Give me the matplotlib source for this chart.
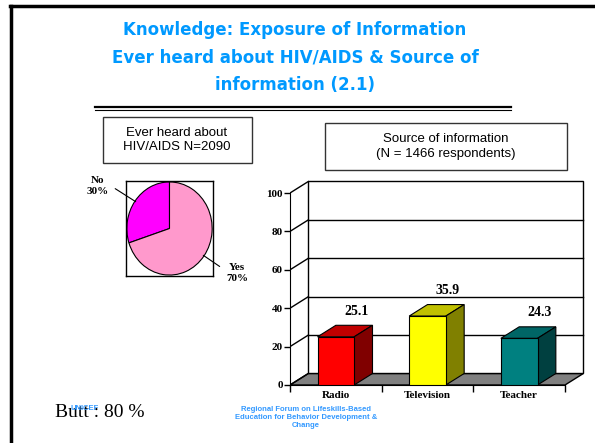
import numpy as np
import matplotlib
matplotlib.use('Agg')
import matplotlib.pyplot as plt
from matplotlib.patches import Polygon, Rectangle
from matplotlib.lines import Line2D

# data
pie_labels = ['No', 'Yes']
pie_values = [30, 70]
pie_colors = ['#FF00FF', '#FF99CC']

sources = ['Radio', 'Television', 'Teacher']
source_pct = [25.1, 35.9, 24.3]
front_colors = ['#FF0000', '#FFFF00', '#008080']
top_colors = ['#C00000', '#C0C000', '#006666']
side_colors = ['#800000', '#808000', '#004040']
yticks = [0, 20, 40, 60, 80, 100]

title = ('Knowledge: Exposure of Information\n'
         'Ever heard about HIV/AIDS & Source of\n'
         'information (2.1)')

W, H = 595, 443
fig = plt.figure(figsize=(W / 100, H / 100), dpi=100)


def px_box(x0, y0, x1, y1):
    return [x0 / W, 1 - y1 / H, (x1 - x0) / W, (y1 - y0) / H]


def fx(x):
    return x / W


def fy(y):
    return 1 - y / H


serif = 'Liberation Serif'
sans = 'Liberation Sans'
blue = '#0099FF'

# slide border
fig.add_artist(Line2D([fx(10), 1], [fy(6), fy(6)], color='black', lw=2.5))
fig.add_artist(Line2D([fx(11), fx(11)], [fy(6), 0], color='black', lw=2.5))

# title + double rule
fig.text(fx(295), fy(57.5), title, ha='center', va='center', color=blue,
         fontsize=12, fontweight='bold', family='DejaVu Sans', linespacing=1.7)
fig.add_artist(Line2D([fx(95), fx(511)], [fy(106.5), fy(106.5)], color='black', lw=1.6))
fig.add_artist(Line2D([fx(95), fx(511)], [fy(109.5), fy(109.5)], color='black', lw=0.8))

# caption boxes
fig.add_artist(Rectangle((fx(103), fy(163)), (252 - 103) / W, (163 - 117) / H,
                         transform=fig.transFigure, fill=False, ec='#333333', lw=1))
fig.text(fx(177), fy(140), 'Ever heard about\nHIV/AIDS N=2090', ha='center', va='center',
         fontsize=9.5, family=sans, linespacing=1.2)
fig.add_artist(Rectangle((fx(325), fy(170)), (567 - 325) / W, (170 - 123) / H,
                         transform=fig.transFigure, fill=False, ec='#333333', lw=1))
fig.text(fx(446), fy(146.5), 'Source of information\n(N = 1466 respondents)', ha='center',
         va='center', fontsize=9.5, family=sans, linespacing=1.25)

# pie
ax2 = fig.add_axes(px_box(126, 181, 213, 276))
wedges, _ = ax2.pie(pie_values, colors=pie_colors, startangle=90, counterclock=True,
                    wedgeprops=dict(edgecolor='black', linewidth=0.8))
ax2.set_aspect('auto')
ax2.set_xlim(-1.02, 1.02)
ax2.set_ylim(-1.02, 1.02)
ax2.set_frame_on(True)
for s in ax2.spines.values():
    s.set_color('black')
    s.set_linewidth(1)

label_pos = [(-1.68, 0.92), (1.58, -0.95)]
label_rel = [(1.0, 0.55), (0.0, 0.6)]
for lab, val, w, pos, rel in zip(pie_labels, pie_values, wedges, label_pos, label_rel):
    mid = np.deg2rad((w.theta1 + w.theta2) / 2)
    ax2.annotate(f'{lab}\n{val}%', xy=(0.98 * np.cos(mid), 0.98 * np.sin(mid)), xytext=pos,
                 ha='center', va='center', fontsize=8, fontweight='bold', family=serif,
                 annotation_clip=False, linespacing=1.3,
                 arrowprops=dict(arrowstyle='-', color='black', lw=0.8, relpos=rel,
                                 shrinkA=3, shrinkB=0))

# 3D-style bar chart
dx, dy = 0.2, 6
ux, uy = 91.67, 1.92
ax = fig.add_axes(px_box(290, 385 - 108 * uy, 290 + 3.3 * ux, 385))
ax.set_xlim(0, 3.3)
ax.set_ylim(0, 108)
ax.patch.set_visible(False)
ax.spines['top'].set_visible(False)
ax.spines['right'].set_visible(False)
ax.spines['left'].set_bounds(0, 100)
ax.spines['bottom'].set_bounds(0, 3)

n = len(sources)
ax.add_patch(Polygon([(0, 0), (n, 0), (n + dx, dy), (dx, dy)], closed=True,
                     fc='#808080', ec='black', lw=1, zorder=1))
ax.add_patch(Rectangle((dx, dy), n, 100, fc='white', ec='black', lw=1, zorder=1))
for v in yticks:
    ax.plot([0, dx], [v, v + dy], color='black', lw=1, zorder=2)
    if 0 < v < 100:
        ax.plot([dx, n + dx], [v + dy, v + dy], color='black', lw=1, zorder=2)

bw = 0.4
for i, (v, cf, ct, cs) in enumerate(zip(source_pct, front_colors, top_colors, side_colors)):
    x0 = i + 0.5 - bw / 2
    ax.add_patch(Polygon([(x0, v), (x0 + bw, v), (x0 + bw + dx, v + dy), (x0 + dx, v + dy)],
                         closed=True, fc=ct, ec='black', lw=0.8, zorder=3))
    ax.add_patch(Polygon([(x0 + bw, 0), (x0 + bw + dx, dy), (x0 + bw + dx, v + dy), (x0 + bw, v)],
                         closed=True, fc=cs, ec='black', lw=0.8, zorder=3))
    ax.add_patch(Rectangle((x0, 0), bw, v, fc=cf, ec='black', lw=0.8, zorder=4))
    ax.text(i + 0.5 + 0.22, v + 10, f'{v:.1f}', ha='center', va='bottom', fontsize=10,
            fontweight='bold', family=serif, zorder=5)

ax.set_yticks(yticks)
ax.set_yticklabels([str(t) for t in yticks], fontsize=8, fontweight='bold', family=serif)
ax.tick_params(axis='y', length=4, width=1, pad=1)
ax.set_xticks(range(n + 1))
ax.set_xticklabels([])
ax.set_xticks(np.arange(n) + 0.5, minor=True)
ax.set_xticklabels(sources, minor=True, fontsize=8, fontweight='bold', family=serif)
ax.tick_params(axis='x', which='major', length=5, width=1, direction='out')
ax.tick_params(axis='x', which='minor', length=0, pad=4)

# footer (UNICEF sits over "Butt" in the source slide too)
fig.text(fx(55), fy(417), 'Butt : 80 %', ha='left', va='baseline', fontsize=14, family=serif)
fig.text(fx(85), fy(408), 'UNICEF', ha='center', va='center', fontsize=5.5,
         fontweight='bold', color='#3399FF', family=sans)
fig.text(fx(306), fy(417.5), 'Regional Forum on Lifeskills-Based\n'
         'Education for Behavior Development &\nChange', ha='center', va='center',
         fontsize=5.5, fontweight='bold', color='#3399FF', family=sans, linespacing=1.15)

fig.savefig('out.png', dpi=100)
